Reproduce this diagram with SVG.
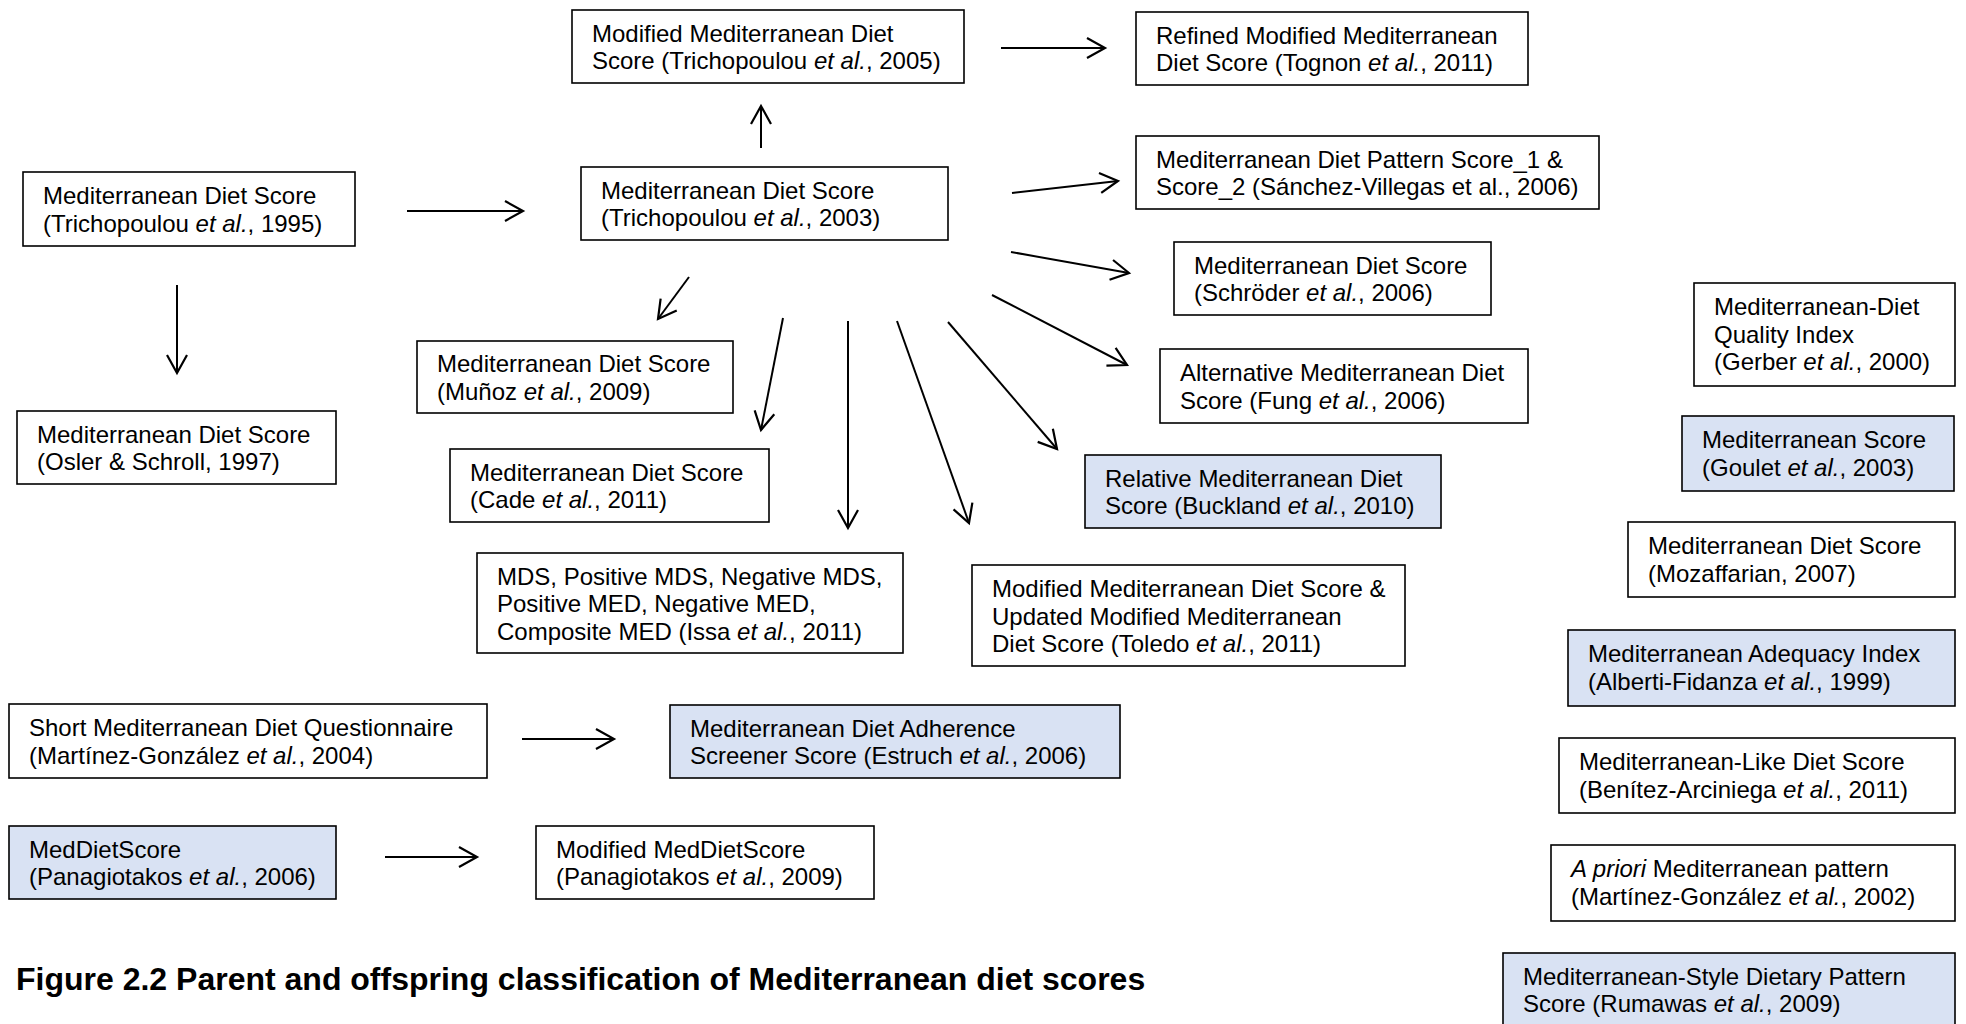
<svg xmlns="http://www.w3.org/2000/svg" width="1966" height="1024" viewBox="0 0 1966 1024">
  <style>
    .box { fill: #ffffff; stroke: #000000; stroke-width: 1.6; }
    .box.blue { fill: #D9E2F3; }
    .lbl { font-family: "Liberation Sans", Arial, sans-serif; font-size: 24px; fill: #000000; }
    .it { font-style: italic; }
    .edge { fill: none; stroke: #000000; stroke-width: 2; marker-end: url(#open); }
    .caption { font-family: "Liberation Sans", Arial, sans-serif; font-size: 32px; font-weight: bold; fill: #000000; }
  </style>
  <defs>
    <marker id="open" markerUnits="userSpaceOnUse" viewBox="-2 -2 24 24" markerWidth="24" markerHeight="24" refX="18" refY="10" orient="auto">
      <path d="M0,0 L18,10 L0,20" fill="none" stroke="#000000" stroke-width="2.2"/>
    </marker>
  </defs>
  <rect width="1966" height="1024" fill="#ffffff"/>

  <!-- connectors -->
  <g id="connectors">
    <line class="edge" x1="407" y1="211" x2="523" y2="211"/>
    <line class="edge" x1="177" y1="285" x2="177" y2="373"/>
    <line class="edge" x1="761" y1="148" x2="761" y2="106"/>
    <line class="edge" x1="1001" y1="48" x2="1105" y2="48"/>
    <line class="edge" x1="1012" y1="193" x2="1118" y2="181"/>
    <line class="edge" x1="1011" y1="252" x2="1129" y2="273"/>
    <line class="edge" x1="992" y1="295" x2="1127" y2="365"/>
    <line class="edge" x1="689" y1="277" x2="658" y2="319"/>
    <line class="edge" x1="783" y1="318" x2="761" y2="430"/>
    <line class="edge" x1="848" y1="321" x2="848" y2="528"/>
    <line class="edge" x1="897" y1="321" x2="969" y2="523"/>
    <line class="edge" x1="948" y1="322" x2="1057" y2="449"/>
    <line class="edge" x1="522" y1="739" x2="614" y2="739"/>
    <line class="edge" x1="385" y1="857" x2="477" y2="857"/>
  </g>

  <!-- score boxes -->
  <g id="mds-1995">
    <rect class="box" x="23" y="172" width="332" height="74"/>
    <text class="lbl" x="43" y="204">Mediterranean Diet Score</text>
    <text class="lbl" x="43" y="231.5">(Trichopoulou <tspan class="it">et al.</tspan>, 1995)</text>
  </g>
  <g id="mds-osler-1997">
    <rect class="box" x="17" y="411" width="319" height="73"/>
    <text class="lbl" x="37" y="442.5">Mediterranean Diet Score</text>
    <text class="lbl" x="37" y="470">(Osler &amp; Schroll, 1997)</text>
  </g>
  <g id="mmds-2005">
    <rect class="box" x="572" y="10" width="392" height="73"/>
    <text class="lbl" x="592" y="41.5">Modified Mediterranean Diet</text>
    <text class="lbl" x="592" y="69">Score (Trichopoulou <tspan class="it">et al.</tspan>, 2005)</text>
  </g>
  <g id="refined-mmds-2011">
    <rect class="box" x="1136" y="12" width="392" height="73"/>
    <text class="lbl" x="1156" y="43.5">Refined Modified Mediterranean</text>
    <text class="lbl" x="1156" y="71">Diet Score (Tognon <tspan class="it">et al.</tspan>, 2011)</text>
  </g>
  <g id="mds-2003">
    <rect class="box" x="581" y="167" width="367" height="73"/>
    <text class="lbl" x="601" y="198.5">Mediterranean Diet Score</text>
    <text class="lbl" x="601" y="226">(Trichopoulou <tspan class="it">et al.</tspan>, 2003)</text>
  </g>
  <g id="mdps-sanchez-2006">
    <rect class="box" x="1136" y="136" width="463" height="73"/>
    <text class="lbl" x="1156" y="167.5">Mediterranean Diet Pattern Score_1 &amp;</text>
    <text class="lbl" x="1156" y="195">Score_2 (Sánchez-Villegas et al., 2006)</text>
  </g>
  <g id="mds-schroder-2006">
    <rect class="box" x="1174" y="242" width="317" height="73"/>
    <text class="lbl" x="1194" y="273.5">Mediterranean Diet Score</text>
    <text class="lbl" x="1194" y="301">(Schröder <tspan class="it">et al.</tspan>, 2006)</text>
  </g>
  <g id="amds-fung-2006">
    <rect class="box" x="1160" y="349" width="368" height="74"/>
    <text class="lbl" x="1180" y="381">Alternative Mediterranean Diet</text>
    <text class="lbl" x="1180" y="408.5">Score (Fung <tspan class="it">et al.</tspan>, 2006)</text>
  </g>
  <g id="mds-munoz-2009">
    <rect class="box" x="417" y="341" width="316" height="72"/>
    <text class="lbl" x="437" y="372">Mediterranean Diet Score</text>
    <text class="lbl" x="437" y="399.5">(Muñoz <tspan class="it">et al.</tspan>, 2009)</text>
  </g>
  <g id="mds-cade-2011">
    <rect class="box" x="450" y="449" width="319" height="73"/>
    <text class="lbl" x="470" y="480.5">Mediterranean Diet Score</text>
    <text class="lbl" x="470" y="508">(Cade <tspan class="it">et al.</tspan>, 2011)</text>
  </g>
  <g id="rmds-buckland-2010">
    <rect class="box blue" x="1085" y="455" width="356" height="73"/>
    <text class="lbl" x="1105" y="486.5">Relative Mediterranean Diet</text>
    <text class="lbl" x="1105" y="514">Score (Buckland <tspan class="it">et al.</tspan>, 2010)</text>
  </g>
  <g id="mds-issa-2011">
    <rect class="box" x="477" y="553" width="426" height="100"/>
    <text class="lbl" x="497" y="584.5">MDS, Positive MDS, Negative MDS,</text>
    <text class="lbl" x="497" y="612">Positive MED, Negative MED,</text>
    <text class="lbl" x="497" y="639.5">Composite MED (Issa <tspan class="it">et al.</tspan>, 2011)</text>
  </g>
  <g id="mmds-toledo-2011">
    <rect class="box" x="972" y="565" width="433" height="101"/>
    <text class="lbl" x="992" y="597">Modified Mediterranean Diet Score &amp;</text>
    <text class="lbl" x="992" y="624.5">Updated Modified Mediterranean</text>
    <text class="lbl" x="992" y="652">Diet Score (Toledo <tspan class="it">et al.</tspan>, 2011)</text>
  </g>
  <g id="smdq-2004">
    <rect class="box" x="9" y="704" width="478" height="74"/>
    <text class="lbl" x="29" y="736">Short Mediterranean Diet Questionnaire</text>
    <text class="lbl" x="29" y="763.5">(Martínez-González <tspan class="it">et al.</tspan>, 2004)</text>
  </g>
  <g id="medas-estruch-2006">
    <rect class="box blue" x="670" y="705" width="450" height="73"/>
    <text class="lbl" x="690" y="736.5">Mediterranean Diet Adherence</text>
    <text class="lbl" x="690" y="764">Screener Score (Estruch <tspan class="it">et al.</tspan>, 2006)</text>
  </g>
  <g id="meddietscore-2006">
    <rect class="box blue" x="9" y="826" width="327" height="73"/>
    <text class="lbl" x="29" y="857.5">MedDietScore</text>
    <text class="lbl" x="29" y="885">(Panagiotakos <tspan class="it">et al.</tspan>, 2006)</text>
  </g>
  <g id="mod-meddietscore-2009">
    <rect class="box" x="536" y="826" width="338" height="73"/>
    <text class="lbl" x="556" y="857.5">Modified MedDietScore</text>
    <text class="lbl" x="556" y="885">(Panagiotakos <tspan class="it">et al.</tspan>, 2009)</text>
  </g>

  <!-- stand-alone scores -->
  <g id="mdqi-gerber-2000">
    <rect class="box" x="1694" y="283" width="261" height="103"/>
    <text class="lbl" x="1714" y="315">Mediterranean-Diet</text>
    <text class="lbl" x="1714" y="342.5">Quality Index</text>
    <text class="lbl" x="1714" y="370">(Gerber <tspan class="it">et al.</tspan>, 2000)</text>
  </g>
  <g id="ms-goulet-2003">
    <rect class="box blue" x="1682" y="416" width="272" height="75"/>
    <text class="lbl" x="1702" y="448">Mediterranean Score</text>
    <text class="lbl" x="1702" y="475.5">(Goulet <tspan class="it">et al.</tspan>, 2003)</text>
  </g>
  <g id="mds-mozaffarian-2007">
    <rect class="box" x="1628" y="522" width="327" height="75"/>
    <text class="lbl" x="1648" y="554">Mediterranean Diet Score</text>
    <text class="lbl" x="1648" y="581.5">(Mozaffarian, 2007)</text>
  </g>
  <g id="mai-alberti-1999">
    <rect class="box blue" x="1568" y="630" width="387" height="76"/>
    <text class="lbl" x="1588" y="662">Mediterranean Adequacy Index</text>
    <text class="lbl" x="1588" y="689.5">(Alberti-Fidanza <tspan class="it">et al.</tspan>, 1999)</text>
  </g>
  <g id="mlds-benitez-2011">
    <rect class="box" x="1559" y="738" width="396" height="75"/>
    <text class="lbl" x="1579" y="770">Mediterranean-Like Diet Score</text>
    <text class="lbl" x="1579" y="797.5">(Benítez-Arciniega <tspan class="it">et al.</tspan>, 2011)</text>
  </g>
  <g id="apriori-2002">
    <rect class="box" x="1551" y="845" width="404" height="76"/>
    <text class="lbl" x="1571" y="877"><tspan class="it">A priori</tspan> Mediterranean pattern</text>
    <text class="lbl" x="1571" y="904.5">(Martínez-González <tspan class="it">et al.</tspan>, 2002)</text>
  </g>
  <g id="msdps-rumawas-2009">
    <rect class="box blue" x="1503" y="953" width="452" height="80"/>
    <text class="lbl" x="1523" y="984.5">Mediterranean-Style Dietary Pattern</text>
    <text class="lbl" x="1523" y="1012">Score (Rumawas <tspan class="it">et al.</tspan>, 2009)</text>
  </g>

  <text class="caption" x="16" y="990">Figure 2.2 Parent and offspring classification of Mediterranean diet scores</text>
</svg>
